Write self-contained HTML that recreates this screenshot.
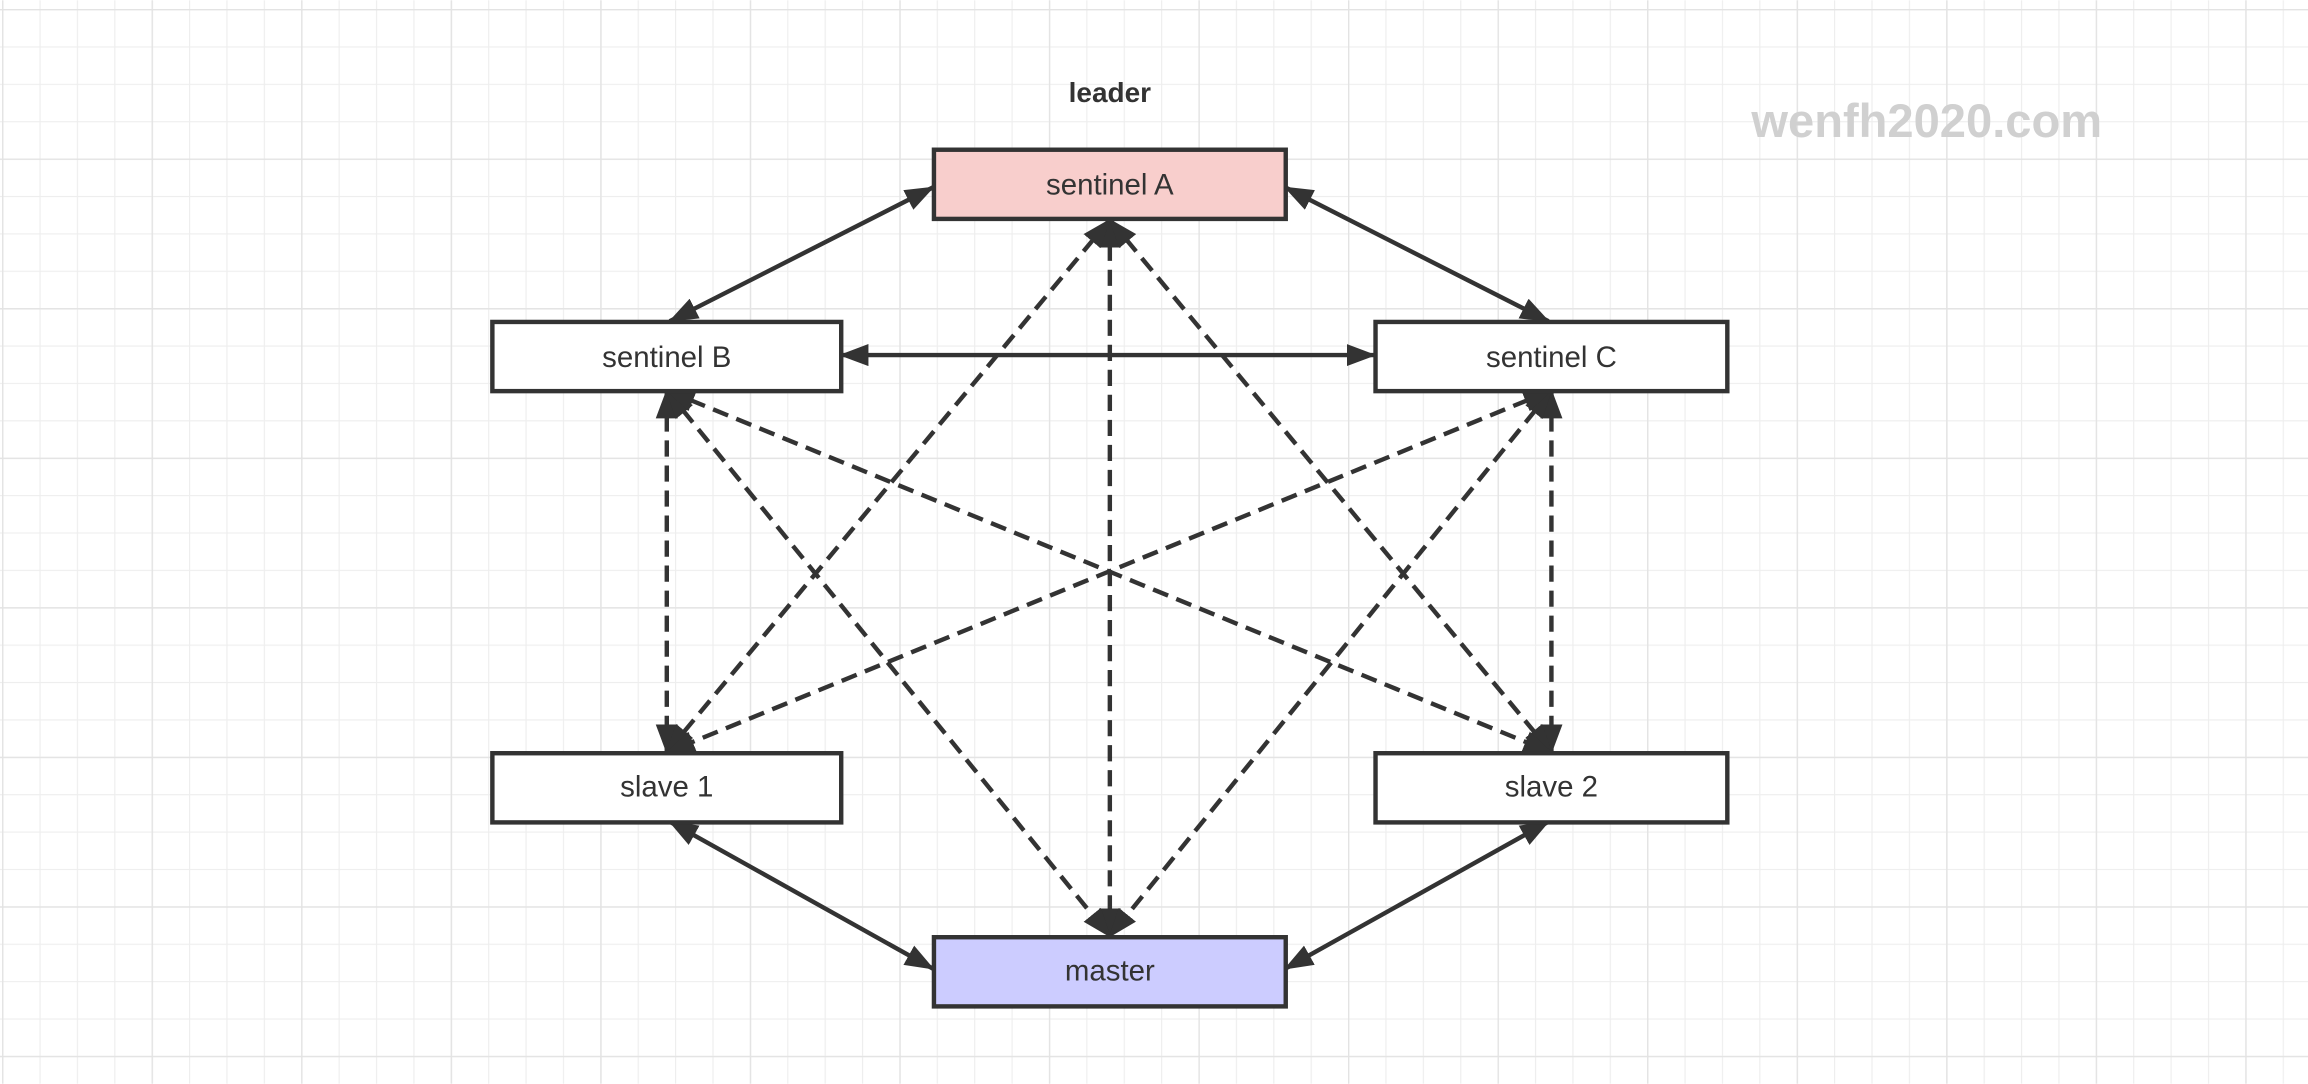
<!DOCTYPE html>
<html><head><meta charset="utf-8"><style>
html,body{margin:0;padding:0;background:#fff;}
svg{display:block;}
text{font-family:"Liberation Sans",sans-serif;}
</style></head><body>
<svg width="2308" height="1084" viewBox="0 0 1568 736" xmlns="http://www.w3.org/2000/svg">
<defs>
<pattern id="minor" x="1.4" y="5.9" width="25.4" height="25.4" patternUnits="userSpaceOnUse">
<path d="M0 0H25.4M0 0V25.4" stroke="#eeeeee" stroke-width="1.6" fill="none"/>
</pattern>
<pattern id="major" x="1.4" y="5.9" width="101.6" height="101.6" patternUnits="userSpaceOnUse">
<path d="M0 0H101.6M0 0V101.6" stroke="#e3e3e3" stroke-width="1.8" fill="none"/>
</pattern>
<marker id="ae" markerWidth="20" markerHeight="15" refX="19" refY="7.5" orient="auto" markerUnits="userSpaceOnUse">
<path d="M0 0L20 7.5L0 15Z" fill="#333"/>
</marker>
<marker id="as" markerWidth="20" markerHeight="15" refX="1" refY="7.5" orient="auto" markerUnits="userSpaceOnUse">
<path d="M20 0L0 7.5L20 15Z" fill="#333"/>
</marker>
</defs>
<rect width="1568" height="736" fill="#fff"/>
<rect width="1568" height="736" fill="url(#minor)"/>
<rect width="1568" height="736" fill="url(#major)"/>

<g stroke="#333" stroke-width="3" fill="none" marker-start="url(#as)" marker-end="url(#ae)">
<line x1="634" y1="127" x2="455" y2="218"/>
<line x1="873" y1="127" x2="1052" y2="218"/>
<line x1="571" y1="241" x2="934" y2="241"/>
<line x1="455" y1="558" x2="634" y2="658"/>
<line x1="1052" y1="558" x2="873" y2="658"/>
</g>
<g stroke="#333" stroke-width="3" fill="none" stroke-dasharray="11,6" marker-start="url(#as)" marker-end="url(#ae)">
<line x1="453" y1="265" x2="453" y2="511"/>
<line x1="1054" y1="265" x2="1054" y2="511"/>
<line x1="754" y1="149" x2="754" y2="636"/>
<line x1="754" y1="149" x2="453" y2="511"/>
<line x1="754" y1="149" x2="1054" y2="511"/>
<line x1="453" y1="265" x2="754" y2="636"/>
<line x1="1054" y1="265" x2="754" y2="636"/>
<line x1="453" y1="265" x2="1054" y2="511"/>
<line x1="1054" y1="265" x2="453" y2="511"/>
</g>

<g stroke="#333" stroke-width="3">
<rect x="634.5" y="101.5" width="239" height="47" fill="#f8cecc"/>
<rect x="334.5" y="218.5" width="237" height="47" fill="#fff"/>
<rect x="934.5" y="218.5" width="239" height="47" fill="#fff"/>
<rect x="334.5" y="511.5" width="237" height="47" fill="#fff"/>
<rect x="934.5" y="511.5" width="239" height="47" fill="#fff"/>
<rect x="634.5" y="636.5" width="239" height="47" fill="#ccccff"/>
</g>
<g font-size="20" fill="#333" text-anchor="middle">
<text x="754" y="132">sentinel A</text>
<text x="453" y="249">sentinel B</text>
<text x="1054" y="249">sentinel C</text>
<text x="453" y="541">slave 1</text>
<text x="1054" y="541">slave 2</text>
<text x="754" y="666">master</text>
</g>
<text x="754" y="69" font-size="19" font-weight="bold" fill="#333" text-anchor="middle">leader</text>
<text x="1309" y="93" font-size="32" font-weight="bold" fill="#d0d0d0" text-anchor="middle">wenfh2020.com</text>
</svg>
</body></html>
